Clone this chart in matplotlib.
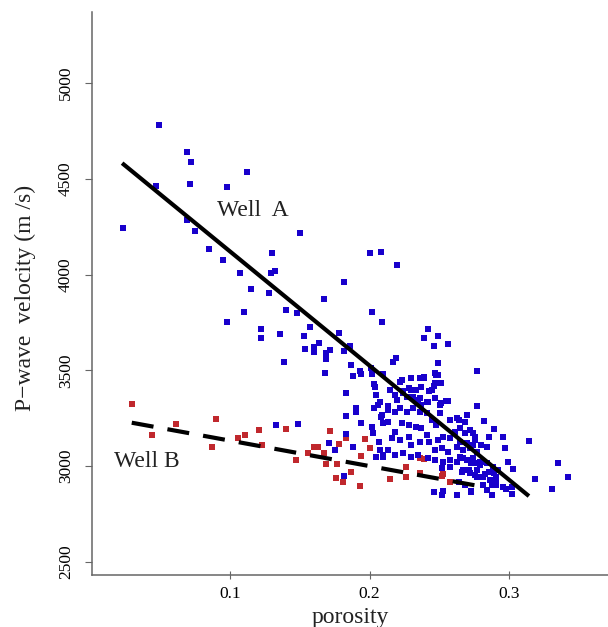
import matplotlib
matplotlib.use("Agg")
import matplotlib.pyplot as plt

# well A (blue) - porosity / P-wave velocity
well_a_por = [0.049, 0.069, 0.072, 0.112, 0.047, 0.071, 0.098, 0.023, 0.069, 0.075, 0.150, 0.085,
              0.095, 0.130, 0.107, 0.129, 0.132, 0.115, 0.128, 0.167, 0.110, 0.140, 0.148, 0.157,
              0.098, 0.122, 0.136, 0.153, 0.122, 0.139, 0.133, 0.149, 0.154, 0.160, 0.164, 0.160,
              0.169, 0.172, 0.169, 0.168, 0.178, 0.171, 0.175,
              0.200, 0.208, 0.220, 0.182, 0.202, 0.209, 0.182, 0.186, 0.242, 0.239, 0.249, 0.246,
              0.256, 0.217, 0.219, 0.249, 0.277, 0.187, 0.193, 0.194, 0.188, 0.202, 0.210, 0.239,
              0.247, 0.249, 0.223, 0.201,
              0.203, 0.204, 0.205, 0.183, 0.190, 0.206, 0.215, 0.218, 0.222, 0.224, 0.230, 0.231,
              0.227, 0.236, 0.237, 0.236, 0.251, 0.246, 0.243, 0.242, 0.247, 0.251, 0.256,
              0.2075, 0.203, 0.2135, 0.190, 0.183, 0.194, 0.208, 0.210, 0.2135, 0.2016, 0.2027, 0.183,
              0.188, 0.207, 0.2075, 0.2047, 0.210, 0.1817,
              0.277, 0.282, 0.289, 0.286, 0.296, 0.297, 0.314, 0.2995, 0.303, 0.335, 0.319, 0.342,
              0.331, 0.302, 0.288, 0.274, 0.2756, 0.280, 0.284, 0.282, 0.286, 0.289, 0.296, 0.298,
              0.302, 0.288, 0.273, 0.277, 0.279, 0.283, 0.276, 0.291, 0.291,
              0.230, 0.239, 0.248, 0.247, 0.245, 0.228, 0.233, 0.237, 0.224, 0.2195, 0.235, 0.241,
              0.255, 0.2505, 0.270, 0.2625, 0.2685, 0.209, 0.2135, 0.218, 0.222, 0.227, 0.231, 0.236,
              0.241, 0.245, 0.248, 0.223, 0.228, 0.233, 0.237, 0.218, 0.216, 0.222, 0.228, 0.230,
              0.236, 0.210, 0.2135, 0.218, 0.224, 0.230, 0.235, 0.241, 0.243, 0.249, 0.253, 0.258,
              0.261, 0.265, 0.2685, 0.272, 0.2756, 0.247, 0.252, 0.2565, 0.2625, 0.267, 0.272, 0.277,
              0.242, 0.247, 0.253, 0.258, 0.2625, 0.267, 0.273, 0.279, 0.252, 0.258, 0.266, 0.271,
              0.2756, 0.2465, 0.253, 0.2625, 0.273, 0.264, 0.2685,
              0.2505, 0.258, 0.264, 0.265, 0.270, 0.274, 0.265, 0.2697, 0.2744, 0.279, 0.284, 0.2888,
              0.292, 0.267, 0.272, 0.2768, 0.2816, 0.2864, 0.291, 0.2518, 0.2816, 0.284]
well_a_vp = [4781, 4641, 4589, 4537, 4462, 4473, 4459, 4242, 4285, 4228, 4219, 4134,
             4076, 4111, 4010, 4010, 4020, 3925, 3902, 3871, 3803, 3815, 3798, 3727,
             3751, 3715, 3690, 3681, 3669, 3545, 3215, 3222, 3613, 3624, 3645, 3598,
             3589, 3607, 3558, 3488, 3694, 3120, 3085,
             4111, 4118, 4049, 3960, 3806, 3751, 3603, 3629, 3718, 3671, 3680, 3629,
             3638, 3545, 3566, 3537, 3495, 3528, 3497, 3481, 3471, 3481, 3481, 3464,
             3488, 3474, 3450, 3511,
             3429, 3412, 3372, 3381, 3302, 3319, 3398, 3372, 3441, 3394, 3398, 3363,
             3363, 3354, 3319, 3459, 3433, 3419, 3394, 3337, 3354, 3331, 3342,
             3337, 3302, 3314, 3285, 3262, 3227, 3258, 3227, 3232, 3203, 3172, 3168,
             3099, 3128, 3085, 3046, 3046, 2949,
             3314, 3238, 3193, 3151, 3151, 3094, 3133, 3024, 2984, 3018, 2932, 2942,
             2880, 2855, 2850, 3172, 3137, 3111, 3099, 3024, 2971, 2963, 2893, 2880,
             2893, 2902, 2867, 2980, 2945, 2959, 3015, 2945, 2902,
             3459, 3459, 3476, 3433, 3398, 3407, 3398, 3415, 3381, 3346, 3346, 3337,
             3340, 3319, 3267, 3250, 3232, 3267, 3293, 3285, 3302, 3285, 3302, 3285,
             3276, 3241, 3215, 3224, 3215, 3206, 3198, 3180, 3146, 3137, 3154, 3111,
             3128, 3059, 3085, 3059, 3067, 3050, 3059, 3163, 3128, 3137, 3154, 3146,
             3180, 3198, 3172, 3189, 3154, 3085, 3094, 3076, 3102, 3085, 3094, 3076,
             3041, 3032, 3024, 3032, 3024, 3041, 3015, 3006, 2989, 2998, 2971, 2980,
             2954, 2864, 2871, 2850, 2871, 2919, 2902,
             3276, 3241, 3241, 3128, 3120, 3111, 3050, 3032, 3041, 3024, 3015, 2998,
             2980, 2980, 2963, 2945, 2945, 2928, 2928, 2850, 2902, 2876]

# well B (red)
well_b_por = [0.030, 0.044, 0.061, 0.090, 0.087, 0.106, 0.111, 0.121, 0.123, 0.140, 0.147, 0.156,
              0.160, 0.163, 0.167, 0.172, 0.169, 0.177, 0.176, 0.178, 0.183, 0.197, 0.200, 0.194,
              0.187, 0.193, 0.215, 0.226, 0.236, 0.236, 0.239, 0.258, 0.181, 0.226, 0.253, 0.252]
well_b_vp = [3323, 3161, 3219, 3246, 3102, 3149, 3163, 3189, 3109, 3194, 3032, 3071,
             3099, 3102, 3067, 3185, 3012, 3012, 2940, 3116, 3146, 3140, 3094, 3053,
             2971, 2897, 2932, 2994, 2963, 3041, 3036, 2919, 2919, 2945, 2959, 2949]

# trend lines (end points)
fit_a_por = [0.0226, 0.3143]
fit_a_vp = [4582, 2844]
fit_b_por = [0.0295, 0.281]
fit_b_vp = [3227, 2893]

serif = "Liberation Serif"
fig = plt.figure(figsize=(6.08, 6.27), dpi=100)
ax = fig.add_axes([92/608, 1 - 575/627, (608 - 92)/608, (575 - 12)/627])

ax.scatter(well_b_por, well_b_vp, marker='s', s=25, color='#c0282d', linewidths=0, zorder=2)
ax.scatter(well_a_por, well_a_vp, marker='s', s=25, color='#1800cc', linewidths=0, zorder=3)
ax.plot(fit_a_por, fit_a_vp, color='black', linewidth=3.0, solid_capstyle='butt', zorder=4)
ax.plot(fit_b_por, fit_b_vp, color='black', linewidth=3.0, linestyle=(0, (5.3, 3.4)),
        dash_capstyle='butt', zorder=4)

ax.text(0.0907, 4306, "Well  A", fontsize=17, family=serif, color='#222222')
ax.text(0.0168, 2996, "Well B", fontsize=17, family=serif, color='#222222')

ax.set_xlim(0.001, 0.371)
ax.set_ylim(2432, 5371)
ax.set_xticks([0.1, 0.2, 0.3])
ax.set_xticklabels(["0.1", "0.2", "0.3"])
ax.set_yticks([2500, 3000, 3500, 4000, 4500, 5000])
for s in ['top', 'right']:
    ax.spines[s].set_visible(False)
for s in ['left', 'bottom']:
    ax.spines[s].set_color('#666666')
    ax.spines[s].set_linewidth(1.1)
ax.tick_params(axis='y', direction='out', length=5, color='#666666', pad=8)
ax.tick_params(axis='x', direction='inout', length=6, color='#666666', pad=5)
for lab in ax.get_yticklabels():
    lab.set_rotation(90)
    lab.set_va('center')
    lab.set_family(serif)
    lab.set_fontsize(12.5)
for lab in ax.get_xticklabels():
    lab.set_family(serif)
    lab.set_fontsize(12.5)

fig.text(350/608, 1 - 617/627, "porosity", ha='center', va='center', fontsize=17, family=serif,
         color='#222222')
fig.text(25/608, 1 - 298/627, "P\u2212wave  velocity (m /s)", ha='center', va='center',
         rotation=90, fontsize=17, family=serif, color='#222222')

fig.savefig("out.png", dpi=100)
